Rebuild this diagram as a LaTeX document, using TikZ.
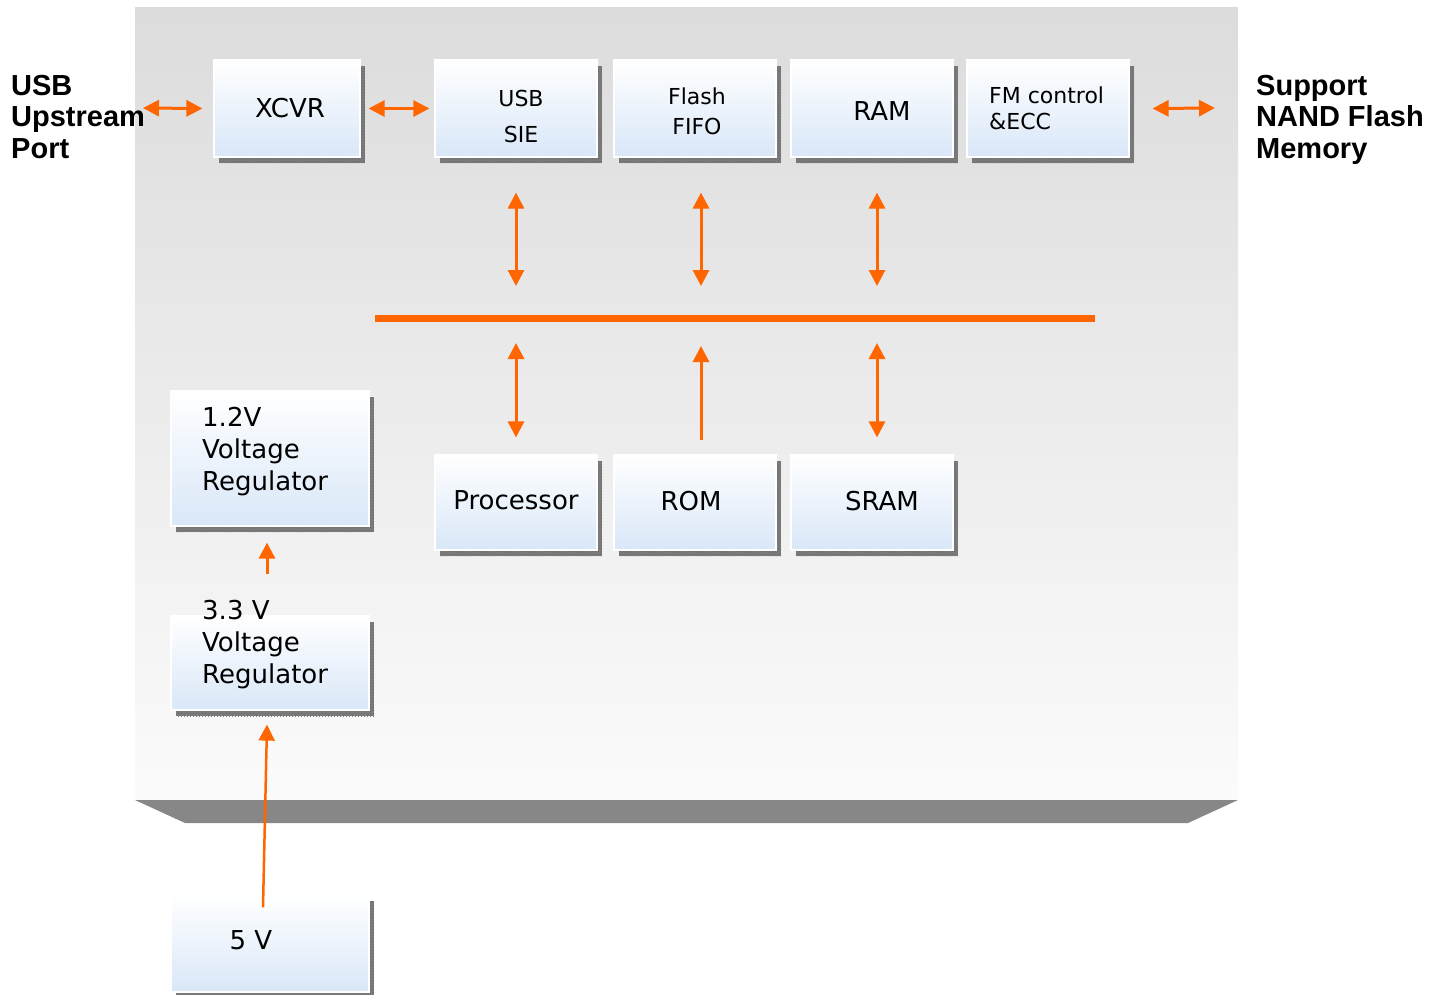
\documentclass[tikz,border=0pt]{standalone}
\usepackage{fontspec}
\setmainfont{DejaVu Sans}
\newfontfamily\labfont{Liberation Sans}
\usetikzlibrary{arrows.meta,patterns,calc}
\definecolor{org}{HTML}{FF6600}
\definecolor{boxbot}{HTML}{D9E7F8}
\definecolor{shad}{HTML}{7C7C7C}
\definecolor{paneltop}{HTML}{DCDCDC}
\definecolor{panelbot}{HTML}{FBFBFB}
\definecolor{slabc}{HTML}{878787}
\tikzset{
  blkbox/.style={draw=white, line width=1.2pt, top color=white, bottom color=boxbot, inner sep=0pt},
  shadowbox/.style={fill=shad},
  shadowdots/.style={pattern=crosshatch dots, pattern color=black!60},
  txt/.style={inner sep=0pt, font=\fontsize{26}{32}\selectfont},
  smalltxt/.style={inner sep=0pt, font=\fontsize{22}{27}\selectfont},
  lab/.style={inner sep=0pt, anchor=base west, font=\labfont\bfseries\fontsize{29}{31.5}\selectfont},
  arr/.style={draw=org, line width=3pt, -{Triangle[length=16pt,width=16pt]}},
  darr/.style={draw=org, line width=3pt, {Triangle[length=16pt,width=16pt]}-{Triangle[length=16pt,width=16pt]}},
  busline/.style={draw=org, line width=7pt}
}
\newcommand\blk[5]{%
  \fill[shadowbox] (#2+5,#3+6) rectangle (#4+5,#5+6);
  \fill[shadowdots] (#2+5,#3+6) rectangle (#4+5,#5+6);
  \node[blkbox, minimum width={#4-#2}, minimum height={#5-#3}] (#1) at ({(#2+#4)/2},{(#3+#5)/2}) {};
}
\begin{document}
\begin{tikzpicture}[x=1pt,y=-1pt]
\useasboundingbox (0,0) rectangle (1444,994);
% panel
\fill[top color=paneltop, bottom color=panelbot] (135,7) rectangle (1238,800);
\fill[slabc] (135,800) -- (1238,800) -- (1188,823) -- (185,823) -- cycle;

% blocks
\blk{xcvr}{214}{60}{360}{157}
\blk{usb}{435}{60}{597}{157}
\blk{fifo}{614}{60}{776}{157}
\blk{ram}{791}{60}{953}{157}
\blk{fm}{967}{60}{1129}{157}
\blk{vr12}{171}{391}{369}{526}
\blk{proc}{435}{455}{597}{550}
\blk{rom}{614}{455}{776}{550}
\blk{sram}{791}{455}{953}{550}
\blk{vr33}{171}{616}{369}{710}
\blk{five}{171}{895}{369}{992}

% texts
\node[txt, anchor=base] (t-xcvr) at (290,117) {XCVR};
\node[smalltxt, anchor=base] (t-usb1) at (521,106) {USB};
\node[smalltxt, anchor=base] (t-usb2) at (521,142) {SIE};
\node[smalltxt, anchor=base] (t-fifo1) at (697,104) {Flash};
\node[smalltxt, anchor=base] (t-fifo2) at (697,134) {FIFO};
\node[txt, anchor=base] (t-ram) at (882,120) {RAM};
\node[smalltxt, anchor=base west] (t-fm1) at (989,103) {FM control};
\node[smalltxt, anchor=base west] (t-fm2) at (989,129) {\&ECC};
\node[txt, anchor=base] (t-proc) at (516,509) {Processor};
\node[txt, anchor=base] (t-rom) at (691,510) {ROM};
\node[txt, anchor=base] (t-sram) at (882,510) {SRAM};
\node[txt, anchor=base west] (t-vr12) at (202,426) {\vtop{\baselineskip=32pt\hbox{1.2V}\hbox{Voltage}\hbox{Regulator}}};
\node[txt, anchor=base west] (t-vr33) at (202,619) {\vtop{\baselineskip=32pt\hbox{3.3 V}\hbox{Voltage}\hbox{Regulator}}};
\node[txt, anchor=base] (t-five) at (251,949) {5 V};

\node[lab] (l-usb) at (11,95) {\vtop{\baselineskip=31.5pt\hbox{USB}\hbox{Upstream}\hbox{Port}}};
\node[lab] (l-nand) at (1256,95) {\vtop{\baselineskip=31.5pt\hbox{Support}\hbox{NAND Flash}\hbox{Memory}}};

% bus
\coordinate (busL) at (375,318);
\coordinate (busR) at (1095,318);
\draw[busline] (busL) -- (busR);

% horizontal arrows
\coordinate (portend) at (143,108);
\coordinate (nandend) at (1215,108);
\draw[darr] (portend) -- ($(xcvr.west)+(-11,0)$);
\draw[darr] ($(xcvr.east)+(8,0)$) -- ($(usb.west)+(-5,0)$);
\draw[darr] ($(fm.east)+(23,0)$) -- (nandend);

% vertical arrows, top row to bus
\draw[darr] ($(usb.south)+(0,35)$) -- ($(usb.south |- busL)+(0,-32)$);
\draw[darr] ($(fifo.south)+(6,35)$) -- ($(fifo.south |- busL)+(6,-32)$);
\draw[darr] ($(ram.south)+(5,35)$) -- ($(ram.south |- busL)+(5,-32)$);

% bus to bottom row
\draw[darr] ($(proc.north |- busL)+(0,25)$) -- ($(proc.north)+(0,-17)$);
\draw[arr] ($(rom.north)+(6,-14)$) -- ($(rom.north |- busL)+(6,28)$);
\draw[darr] ($(sram.north |- busL)+(5,25)$) -- ($(sram.north)+(5,-17)$);

% power arrows
\draw[arr] ($(vr33.north)+(-3,-41)$) -- ($(vr12.south)+(-3,16)$);
\draw[arr, line width=2.5pt] ($(five.north)+(-7,13)$) -- ($(vr33.south)+(-3,14)$);
\end{tikzpicture}
\end{document}
